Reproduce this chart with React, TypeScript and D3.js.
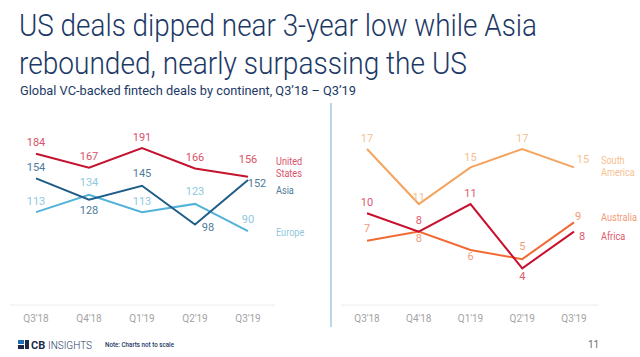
import React from "react";
import * as d3 from "d3";

const quarters = ["Q3'18", "Q4'18", "Q1'19", "Q2'19", "Q3'19"];

const usDeals = [184, 167, 191, 166, 156];
const asiaDeals = [154, 128, 145, 98, 152];
const europeDeals = [113, 134, 113, 123, 90];

const southAmericaDeals = [17, 11, 15, 17, 15];
const africaDeals = [10, 8, 11, 4, 8];
const australiaDeals = [7, 8, 6, 5, 9];

const titleLines = ["US deals dipped near 3-year low while Asia", "rebounded, nearly surpassing the US"];
const subtitle = "Global VC-backed fintech deals by continent, Q3\u201918 \u2013 Q3\u201919";

// label offsets (dx, dy) from each point — presentation only
const usOff = [[0, -11], [0, -11], [0, -11], [0, -11], [0, -17]];
const asiaOff = [[0, -11], [0, 11], [0, -12], [13, 3], [9, 3]];
const europeOff = [[0, -11], [0, -12], [0, -11], [0, -12], [0, -12]];
const saOff = [[0, -11], [0, -7], [0, -10], [0, -11], [9, -8]];
const africaOff = [[0, -11], [0, -11], [0, -11], [0, 8], [8, 5]];
const australiaOff = [[0, -12], [0, 7], [0, 7], [0, -13], [4, -6]];

const FONT = "Roboto, 'Noto Sans', sans-serif";

type Series = {
  values: number[];
  off: number[][];
  line: string;
  label: string;
  name: string[];
  nameY: number[];
};

function Panel({
  series,
  x0,
  x1,
  yMax,
  yTopPx,
  axisX0,
  axisX1,
  nameX,
}: {
  series: Series[];
  x0: number;
  x1: number;
  yMax: number;
  yTopPx: number;
  axisX0: number;
  axisX1: number;
  nameX: number;
}) {
  const x = d3.scalePoint<string>().domain(quarters).range([x0, x1]);
  const y = d3.scaleLinear().domain([0, yMax]).range([305, yTopPx]);
  const line = d3
    .line<number>()
    .x((_, i) => x(quarters[i]) as number)
    .y((d) => y(d));
  return (
    <g>
      <line x1={axisX0} x2={axisX1} y1={305} y2={305} stroke="#ececec" strokeWidth={1} />
      {quarters.map((q) => (
        <text
          key={q}
          x={x(q)}
          y={318}
          textAnchor="middle"
          dominantBaseline="central"
          fontSize={10}
          fill="#a3a3a3"
          fontFamily={FONT}
        >
          {q}
        </text>
      ))}
      {series.map((s, si) => (
        <path key={"l" + si} d={line(s.values) || ""} fill="none" stroke={s.line} strokeWidth={2} strokeLinejoin="miter" />
      ))}
      {series.map((s, si) =>
        s.values.map((v, i) => (
          <text
            key={"v" + si + "-" + i}
            x={(x(quarters[i]) as number) + s.off[i][0]}
            y={y(v) + s.off[i][1]}
            textAnchor="middle"
            dominantBaseline="central"
            fontSize={11}
            fill={s.label}
            fontFamily={FONT}
          >
            {v}
          </text>
        ))
      )}
      {series.map((s, si) =>
        s.name.map((n, k) => (
          <text
            key={"n" + si + "-" + k}
            transform={`translate(${nameX},${s.nameY[k]}) scale(0.83,1)`}
            dominantBaseline="central"
            fontSize={11}
            fill={s.label}
            fontFamily={FONT}
          >
            {n}
          </text>
        ))
      )}
    </g>
  );
}

export default function App() {
  const navy = "#1c3966";
  const left: Series[] = [
    { values: europeDeals, off: europeOff, line: "#52b3da", label: "#8fc8e0", name: ["Europe"], nameY: [232] },
    { values: asiaDeals, off: asiaOff, line: "#1f5d88", label: "#4f7c9c", name: ["Asia"], nameY: [190] },
    { values: usDeals, off: usOff, line: "#c4122f", label: "#d9536a", name: ["United", "States"], nameY: [161, 173] },
  ];
  const right: Series[] = [
    { values: southAmericaDeals, off: saOff, line: "#f5a460", label: "#f7bf90", name: ["South", "America"], nameY: [160, 172] },
    { values: australiaDeals, off: australiaOff, line: "#f26a33", label: "#f29a78", name: ["Australia"], nameY: [217] },
    { values: africaDeals, off: africaOff, line: "#c8102e", label: "#e0596d", name: ["Africa"], nameY: [236] },
  ];
  return (
    <svg
      width={640}
      height={357}
      style={{ position: "absolute", left: 0, top: 0, background: "#fff" }}
      fontFamily={FONT}
    >
      <rect width={640} height={357} fill="#fff" />
      <text x={19} y={36} fontSize={31} fontWeight={300} fill={navy} textLength={518} lengthAdjust="spacingAndGlyphs">
        {titleLines[0]}
      </text>
      <text x={19} y={74} fontSize={31} fontWeight={300} fill={navy} textLength={448} lengthAdjust="spacingAndGlyphs">
        {titleLines[1]}
      </text>
      <text x={20} y={95} fontSize={13} fontWeight={400} fill={navy} textLength={336} lengthAdjust="spacingAndGlyphs">
        {subtitle}
      </text>

      <line x1={331} x2={331} y1={103} y2={327} stroke="#bcd6e8" strokeWidth={2} />

      <Panel series={left} x0={36} x1={248} yMax={191} yTopPx={148} axisX0={10} axisX1={275} nameX={276} />
      <Panel series={right} x0={367} x1={574} yMax={17} yTopPx={149} axisX0={341} axisX1={599} nameX={601} />

      {/* footer logo */}
      <g>
        <rect x={18} y={340} width={6} height={4} fill="#1f6fb5" />
        <rect x={18} y={345} width={6} height={4} fill="#1c2b4a" />
        <rect x={25} y={340} width={4} height={9} fill="#1c2b4a" />
        <text x={31} y={349} fontSize={11} fontWeight={700} fill="#1c2b4a" fontFamily={FONT}>
          CB
        </text>
        <text x={48} y={349} fontSize={11} fontWeight={300} fill="#1c3966" fontFamily={FONT} textLength={44} lengthAdjust="spacingAndGlyphs">
          INSIGHTS
        </text>
        <text x={105} y={347} fontSize={8} fontWeight={500} fill={navy} textLength={69} lengthAdjust="spacingAndGlyphs">
          Note: Charts not to scale
        </text>
      </g>
      <text x={588} y={348} fontSize={10} fill="#6b6b6b">
        11
      </text>
    </svg>
  );
}
